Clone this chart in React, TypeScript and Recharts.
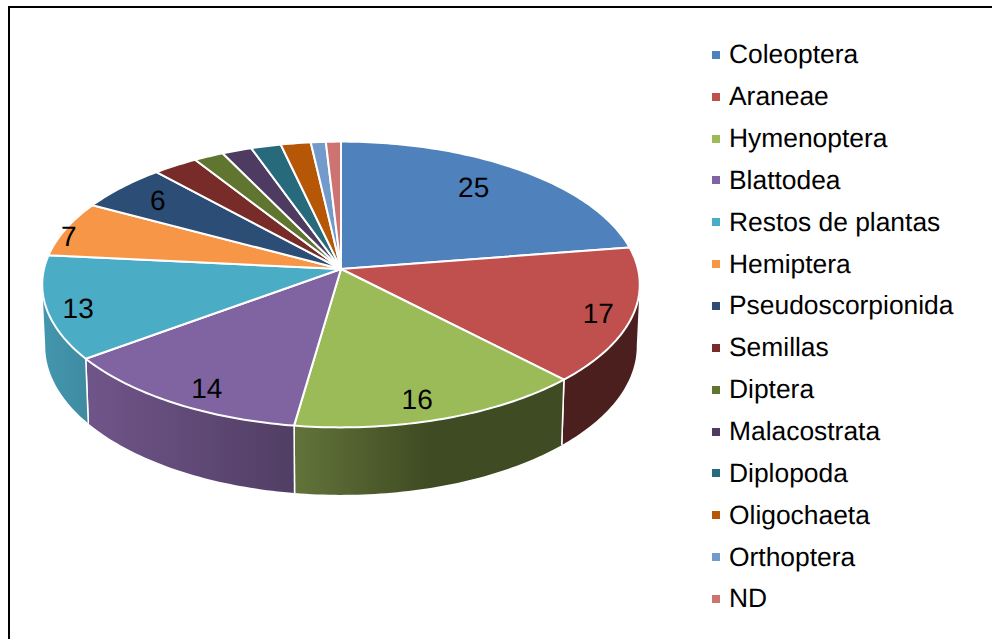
import { Legend, Pie, PieChart } from "recharts";

const categories = [
  "Coleoptera",
  "Araneae",
  "Hymenoptera",
  "Blattodea",
  "Restos de plantas",
  "Hemiptera",
  "Pseudoscorpionida",
  "Semillas",
  "Diptera",
  "Malacostrata",
  "Diplopoda",
  "Oligochaeta",
  "Orthoptera",
  "ND",
];
const counts = [25, 17, 16, 14, 13, 7, 6, 3, 2, 2, 2, 2, 1, 1];
const topColors = [
  "#4F81BD",
  "#C0504D",
  "#9BBB59",
  "#8064A2",
  "#4BACC6",
  "#F79646",
  "#2C4D75",
  "#772C2A",
  "#5F7530",
  "#4D3B62",
  "#276A7C",
  "#B65708",
  "#729ACA",
  "#CD7371",
];
// left / right colour of the outer wall, only the front slices show it
const wallColors: Record<number, string[]> = {
  1: ["#4C1F1F", "#4C1F1F"],
  2: ["#62743A", "#3F4B22"],
  3: ["#70558A", "#513E64"],
  4: ["#4396AE", "#3F8BA1"],
};

// label nudges from the default spot, in px
const labelNudges = [
  [-10, -2],
  [24, 7],
  [-5, 11],
  [0, 13],
  [-27, 9],
  [-52, 0],
  [-8, -3],
];

const pieData = categories.map((name, i) => ({ name, value: counts[i] }));

const FONT = '"Liberation Sans", Arial, sans-serif';
const RADIAN = Math.PI / 180;
const PERSPECTIVE = 0.1084;
const TILT = 0.4755;
const RIM_DEPTH = 61;
const RIM_SCALE = 0.99;
const RIM_TILT = 0.495;
// the wall runs between the two points where the disc is widest
const WALL_FROM = -6;
const WALL_TO = -174;

function topPoint(cx: number, cy: number, r: number, deg: number) {
  const u = Math.cos(deg * RADIAN);
  const v = Math.sin(deg * RADIAN);
  const w = 1 + PERSPECTIVE * v;
  return [cx + (r * u) / w, cy - (r * TILT * v) / w];
}

function rimPoint(cx: number, cy: number, r: number, deg: number) {
  const u = Math.cos(deg * RADIAN);
  const v = Math.sin(deg * RADIAN);
  const w = 1 + PERSPECTIVE * v;
  return [cx + (r * RIM_SCALE * u) / w, cy + RIM_DEPTH - (r * RIM_TILT * v) / w];
}

function sweep(from: number, to: number) {
  const steps = Math.max(2, Math.ceil(Math.abs(to - from)));
  const out: number[] = [];
  for (let i = 0; i <= steps; i++) out.push(from + ((to - from) * i) / steps);
  return out;
}

function toPath(points: number[][]) {
  return (
    points.map((p, i) => `${i ? "L" : "M"}${p[0].toFixed(2)} ${p[1].toFixed(2)}`).join(" ") + " Z"
  );
}

function TopSlice(props: any) {
  const { cx, cy, outerRadius, startAngle, endAngle, index } = props;
  const rim = sweep(startAngle, endAngle).map((a) => topPoint(cx, cy, outerRadius, a));
  return (
    <path
      d={toPath([[cx, cy], ...rim])}
      fill={topColors[index]}
      stroke="#fff"
      strokeWidth={2}
      strokeLinejoin="round"
    />
  );
}

function WallSlice(props: any) {
  const { cx, cy, outerRadius, startAngle, endAngle, index } = props;
  const colors = wallColors[index];
  if (!colors) return <g />;
  const from = Math.min(startAngle, WALL_FROM);
  const to = Math.max(endAngle, WALL_TO);
  const angles = sweep(from, to);
  const upper = angles.map((a) => topPoint(cx, cy, outerRadius, a));
  const lower = angles.map((a) => rimPoint(cx, cy, outerRadius, a)).reverse();
  const gradientId = `wall-${index}`;
  const dividers = [startAngle, endAngle].filter((a) => a <= WALL_FROM && a >= WALL_TO);
  return (
    <g>
      <defs>
        <linearGradient id={gradientId} x1="0" y1="0" x2="1" y2="0">
          <stop offset="0%" stopColor={colors[0]} />
          <stop offset={index === 2 ? "50%" : "100%"} stopColor={colors[1]} />
        </linearGradient>
      </defs>
      <path d={toPath([...upper, ...lower])} fill={`url(#${gradientId})`} stroke="none" />
      {dividers.map((a) => {
        const p = topPoint(cx, cy, outerRadius, a);
        const q = rimPoint(cx, cy, outerRadius, a);
        return <line key={a} x1={p[0]} y1={p[1]} x2={q[0]} y2={q[1]} stroke="#fff" strokeWidth={1.5} />;
      })}
    </g>
  );
}

function SliceLabel(props: any) {
  const { cx, cy, outerRadius, midAngle, index, value } = props;
  const nudge = labelNudges[index];
  if (!nudge) return null;
  const p = topPoint(cx, cy, outerRadius * 0.8, midAngle);
  return (
    <text
      x={p[0] + nudge[0]}
      y={p[1] + nudge[1]}
      textAnchor="middle"
      dominantBaseline="central"
      fontFamily={FONT}
      fontSize={28}
      fill="#000"
      style={{ textRendering: "geometricPrecision" }}
    >
      {value}
    </text>
  );
}

function LegendList() {
  return (
    <div style={{ fontFamily: FONT, fontSize: 26.4, color: "#000", textRendering: "geometricPrecision" }}>
      {categories.map((name, i) => (
        <div key={name} style={{ display: "flex", alignItems: "center", height: 41.85 }}>
          <span style={{ width: 8, height: 8, background: topColors[i], marginRight: 9 }} />
          <span style={{ whiteSpace: "nowrap" }}>{name}</span>
        </div>
      ))}
    </div>
  );
}

export default function App() {
  return (
    <div style={{ position: "absolute", left: 0, top: 0, width: 992, height: 639, background: "#fff", overflow: "hidden" }}>
      <div style={{ position: "absolute", left: 8, top: 6, right: 0, height: 2, background: "#000" }} />
      <div style={{ position: "absolute", left: 8, top: 6, bottom: 0, width: 2, background: "#000" }} />
      <PieChart
        width={992}
        height={639}
        margin={{ top: 0, right: 0, bottom: 0, left: 0 }}
        style={{ position: "absolute", left: 0, top: 0 }}
      >
        <Pie
          data={pieData}
          dataKey="value"
          nameKey="name"
          cx={341}
          cy={269}
          outerRadius={297}
          startAngle={90}
          endAngle={-270}
          legendType="none"
          isAnimationActive={false}
          shape={WallSlice}
        />
        <Pie
          data={pieData}
          dataKey="value"
          nameKey="name"
          cx={341}
          cy={269}
          outerRadius={297}
          startAngle={90}
          endAngle={-270}
          isAnimationActive={false}
          shape={TopSlice}
          label={SliceLabel}
          labelLine={false}
        />
        <Legend
          layout="vertical"
          align="right"
          verticalAlign="top"
          content={LegendList}
          wrapperStyle={{ left: 712, top: 34, width: 270 }}
        />
      </PieChart>
    </div>
  );
}
